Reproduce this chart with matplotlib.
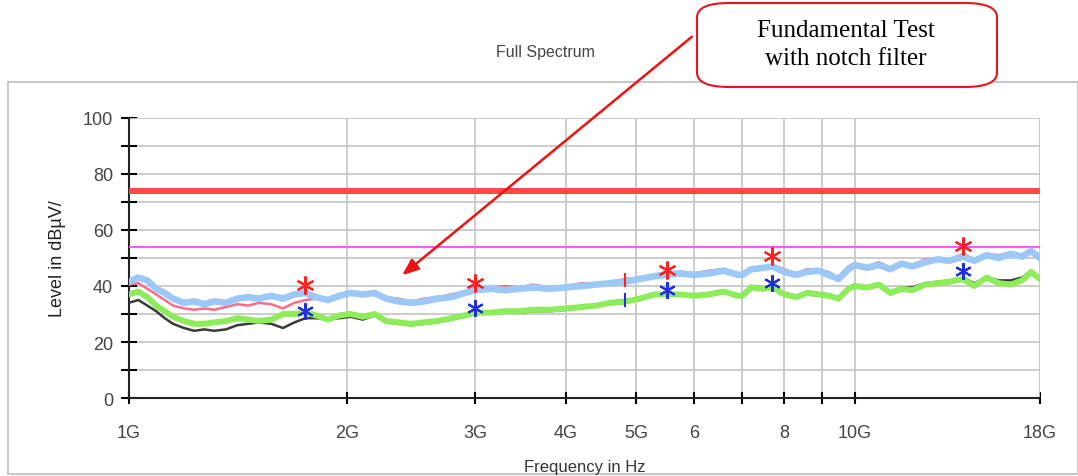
import matplotlib.pyplot as plt
from matplotlib.patches import Rectangle, FancyBboxPatch
from matplotlib.ticker import FixedLocator, NullFormatter

# frequency points in GHz
freq = [1.00, 1.03, 1.06, 1.09, 1.12, 1.15, 1.19, 1.23, 1.27, 1.31, 1.36, 1.41, 1.46,
        1.51, 1.57, 1.63, 1.69, 1.75, 1.81, 1.88, 1.95, 2.02, 2.10, 2.18, 2.26, 2.35,
        2.45, 2.55, 2.66, 2.78, 2.90, 3.00, 3.15, 3.30, 3.45, 3.60, 3.80, 4.00, 4.20,
        4.40, 4.60, 4.83, 5.05, 5.30, 5.50, 5.75, 6.00, 6.30, 6.60, 6.90, 7.00, 7.20,
        7.50, 7.70, 8.00, 8.30, 8.60, 8.90, 9.20, 9.50, 9.80, 10.0, 10.4, 10.8, 11.2,
        11.6, 12.0, 12.5, 13.0, 13.5, 14.1, 14.6, 15.2, 15.8, 16.4, 17.0, 17.5, 18.0]

# peak, horizontal
peak_h = [41.5, 43.0, 42.0, 39.0, 37.5, 35.5, 34.0, 34.5, 33.5, 34.5, 34.0, 35.5, 36.0,
          35.5, 36.5, 35.5, 37.0, 37.5, 36.0, 35.0, 36.5, 37.5, 37.0, 37.5, 35.5, 34.5,
          34.0, 34.5, 35.5, 36.0, 37.5, 38.5, 39.0, 38.5, 39.0, 39.5, 39.0, 39.5, 40.0,
          40.5, 41.0, 41.5, 42.5, 43.5, 44.0, 44.5, 44.0, 44.5, 45.5, 44.0, 44.0, 46.0,
          46.5, 47.0, 45.0, 44.0, 45.0, 45.5, 44.0, 42.5, 46.0, 47.5, 46.5, 47.5, 46.0,
          48.0, 47.0, 48.5, 49.5, 49.0, 50.5, 49.0, 51.0, 50.0, 51.5, 50.5, 52.5, 50.0]

# peak, vertical
peak_v = [40.5, 41.0, 39.0, 37.0, 35.0, 33.0, 32.0, 31.5, 32.0, 31.5, 32.5, 33.5, 33.0,
          34.0, 33.5, 32.0, 34.0, 35.0, 35.5, 34.5, 37.0, 38.0, 37.5, 38.0, 36.0, 35.5,
          34.5, 35.5, 36.0, 37.0, 38.0, 39.5, 39.5, 40.0, 39.5, 40.5, 39.5, 40.0, 41.0,
          41.0, 41.5, 42.5, 43.0, 44.0, 45.0, 45.0, 44.5, 45.5, 46.0, 44.5, 44.5, 46.5,
          47.0, 47.5, 46.0, 44.5, 46.0, 46.0, 45.0, 43.0, 47.0, 48.0, 47.0, 48.5, 46.5,
          48.5, 47.5, 49.5, 50.0, 49.5, 51.5, 49.5, 51.5, 51.0, 52.0, 51.0, 53.0, 50.5]

# average, horizontal
avg_h = [34.0, 35.0, 33.0, 31.0, 28.5, 26.5, 25.0, 24.0, 24.5, 24.0, 24.5, 26.0, 26.5,
         27.0, 26.5, 25.0, 27.0, 28.5, 28.5, 28.0, 28.5, 29.0, 28.0, 29.5, 27.0, 26.5,
         26.0, 26.5, 27.0, 28.0, 29.0, 30.0, 30.5, 30.5, 30.5, 31.0, 31.0, 31.5, 32.0,
         33.0, 33.5, 34.0, 35.0, 36.5, 37.0, 37.0, 36.5, 37.5, 38.5, 36.5, 37.0, 40.0,
         39.5, 39.0, 37.5, 36.5, 38.0, 37.5, 37.0, 36.0, 39.0, 40.5, 39.5, 40.0, 38.0,
         39.5, 39.5, 41.0, 41.5, 42.0, 43.0, 41.0, 43.0, 42.0, 42.0, 43.0, 45.5, 43.0]

# average, vertical
avg_v = [37.0, 38.0, 36.0, 33.0, 31.0, 29.0, 27.5, 26.5, 26.5, 27.0, 27.5, 28.5, 28.0,
         27.5, 28.0, 30.0, 30.0, 30.5, 29.5, 28.0, 29.5, 30.0, 29.0, 30.0, 27.5, 27.0,
         26.5, 27.0, 27.5, 28.5, 29.5, 30.5, 30.5, 31.0, 31.0, 31.5, 31.5, 32.0, 32.5,
         33.0, 34.0, 34.5, 35.5, 37.0, 37.0, 37.0, 36.5, 37.0, 38.0, 36.5, 36.5, 39.5,
         39.0, 39.5, 37.0, 36.0, 37.5, 37.0, 36.5, 35.5, 39.0, 40.0, 39.5, 40.5, 37.5,
         39.0, 38.5, 40.5, 41.0, 41.5, 42.5, 40.0, 43.0, 41.0, 40.5, 42.0, 45.0, 42.5]

# final measurement points
pk_freq = [1.75, 3.00, 5.51, 7.69, 14.1]
pk_level = [40.4, 41.0, 45.7, 50.7, 54.3]
av_freq = [1.75, 3.00, 5.51, 7.69, 14.1]
av_level = [31.0, 32.0, 38.6, 41.0, 45.4]
mid_freq = [4.83]
mid_pk = [42.0]
mid_av = [35.0]

limit_pk = 74.0
limit_av = 54.0

tick_pos = [1, 2, 3, 4, 5, 6, 7, 8, 9, 10, 18]
tick_txt = ["1G", "2G", "3G", "4G", "5G", "6", "", "8", "", "10G", "18G"]

plt.rcParams['font.family'] = ['Liberation Sans Narrow', 'Liberation Sans', 'DejaVu Sans']

fig = plt.figure(figsize=(10.78, 4.77), dpi=100)
W, H = 1078, 477

# grey frame around the plot
fig.patches.append(Rectangle((8 / W, 2 / H), (W - 8) / W, 392 / H, transform=fig.transFigure,
                             facecolor="white", edgecolor="#c8c8c8", lw=1.5, zorder=-10))

ax = fig.add_axes([129 / W, 1 - 399 / H, 911 / W, 280 / H])
ax.set_facecolor("none")
ax.set_xscale("log")
ax.set_xlim(1, 18)
ax.set_ylim(0, 100)

ax.xaxis.set_major_locator(FixedLocator(tick_pos))
ax.set_xticklabels(tick_txt)
ax.xaxis.set_minor_formatter(NullFormatter())
ax.xaxis.set_minor_locator(FixedLocator([]))
ax.set_yticks([0, 20, 40, 60, 80, 100])
ax.set_yticks([10, 30, 50, 70, 90], minor=True)

ax.grid(True, which="both", color="#c8c8c8", lw=1.3)
ax.axhline(100, color="#c8c8c8", lw=1.3)
ax.axvline(18, color="#c8c8c8", lw=1.3)
for s in ["top", "right"]:
    ax.spines[s].set_visible(False)
for s in ["left", "bottom"]:
    ax.spines[s].set_linewidth(1.5)
    ax.spines[s].set_color("#222222")

ax.tick_params(axis="y", which="both", direction="inout", length=11, width=1.5,
               labelsize=13, pad=6, labelcolor="#444444")
ax.tick_params(axis="x", which="both", direction="inout", length=9, width=1.5,
               labelsize=13, pad=14, labelcolor="#444444")

ax.axhline(limit_pk, color="#ff4646", lw=4.3, zorder=3)
ax.axhline(limit_av, color="#ff55ff", lw=1.4, zorder=3)

ax.plot(freq, avg_h, color="#3a3a3a", lw=1.8, zorder=4)
ax.plot(freq, avg_v, color="#8cec5a", lw=4.3, zorder=5)
ax.plot(freq, peak_v, color="#ff6b8a", lw=1.8, zorder=6)
ax.plot(freq, peak_h, color="#9cc8f8", lw=4.8, zorder=7)

ax.plot(pk_freq, pk_level, ls="none", marker=(6, 2, 0), ms=13, mew=1.5, color="#ff2020", zorder=8)
ax.plot(av_freq, av_level, ls="none", marker=(6, 2, 0), ms=12, mew=1.5, color="#1f2fe0", zorder=8)
ax.plot(mid_freq, mid_pk, ls="none", marker="|", ms=10, mew=1.5, color="#ff2020", zorder=8)
ax.plot(mid_freq, mid_av, ls="none", marker="|", ms=10, mew=1.5, color="#1f2fe0", zorder=8)

ax.set_ylabel("Level in dBµV/", fontsize=13, color="#222222", labelpad=12)
ax.set_xlabel("Frequency in Hz", fontsize=12, color="#333333", labelpad=13)
fig.text(545 / W, 1 - 53 / H, "Full Spectrum", ha="center", va="center", fontsize=11.5,
         color="#444444")

# callout box with arrow
fig.patches.append(FancyBboxPatch((697 / W, 1 - 88 / H), 300 / W, 84 / H,
                                  boxstyle="round,pad=0,rounding_size=0.03",
                                  transform=fig.transFigure, facecolor="white",
                                  edgecolor="#e8141e", lw=1.5, zorder=5))
fig.text(846 / W, 1 - 31 / H, "Fundamental Test", ha="center", va="center", fontsize=18,
         family="Liberation Serif", zorder=6)
fig.text(846 / W, 1 - 59 / H, "with notch filter", ha="center", va="center", fontsize=18,
         family="Liberation Serif", zorder=6)
ax.annotate("", xy=(400, H - 278), xycoords="figure pixels",
            xytext=(694, H - 36), textcoords="figure pixels", annotation_clip=False,
            arrowprops=dict(arrowstyle="-|>,head_length=1.0,head_width=0.4",
                            color="#ee1111", lw=1.8), zorder=9)

fig.savefig("out.png", dpi=100)
